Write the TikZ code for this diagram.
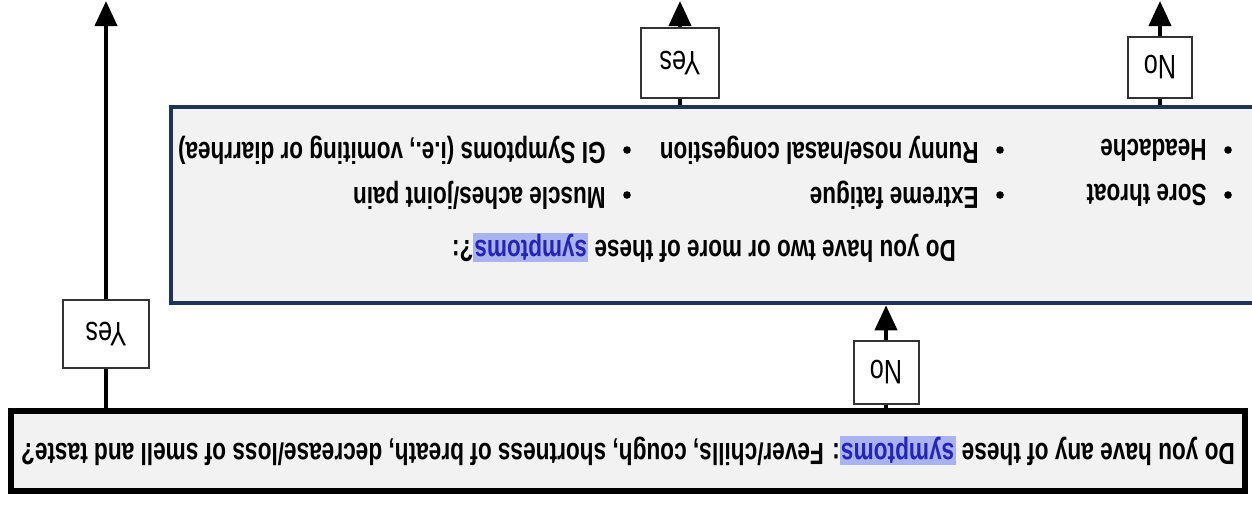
\documentclass[tikz,border=0pt]{standalone}
\usepackage{fontspec}
\setmainfont{Liberation Sans}[FakeStretch=0.74]
\usetikzlibrary{positioning, arrows.meta}
\usepackage{xcolor}
\definecolor{qfill}{HTML}{F2F2F2}
\definecolor{qnavy}{HTML}{1F3358}
\definecolor{linkblue}{HTML}{2424B8}
\definecolor{linkhl}{HTML}{A9B3F0}
\newcommand{\symlink}[1]{{\setlength{\fboxsep}{0.6pt}\colorbox{linkhl}{\textcolor{linkblue}{#1}}}}

\begin{document}
\begin{tikzpicture}[x=0.5pt, y=-0.5pt,
      qbox/.style={draw=black, line width=2.6pt, fill=qfill,
                   font=\bfseries\fontsize{15.3}{17}\selectfont},
      ansbox/.style={draw=black!80, line width=1pt, fill=white,
                     font=\fontsize{17}{19}\selectfont},
      bul/.style={font=\bfseries\fontsize{15.2}{17}\selectfont, inner sep=0pt},
      dot/.style={circle, fill=black, inner sep=0pt, minimum size=3.8pt},
      arr/.style={line width=2pt, -{Triangle[length=12.5pt, width=11pt]}},
      plain/.style={line width=2pt}]
  % the sheet is upside down: draw it upright, then turn it round
  \begin{scope}[rotate around={180:(626,252)}, transform shape]
    \useasboundingbox (0,0) rectangle (1252,504);
    \clip (0,0) rectangle (1252,504);
    \fill[white] (0,0) rectangle (1252,504);

    % questions
    \node[qbox, minimum width=617pt, minimum height=40pt] (q1) at (624,53)
      {Do you have any of these \symlink{symptoms}: Fever/chills, cough, shortness of breath, decrease/loss of smell and taste?};
    \node[qbox, draw=qnavy, line width=2.3pt, minimum width=545.5pt, minimum height=98pt] (q2) at (535.5,299) {};
    \node[bul] (q2head) at (548,256)
      {Do you have two or more of these \symlink{symptoms}?:};
    \foreach \bx/\by/\txt in {24/309/{Sore throat}, 24/354/{Headache},
        252/309/{Extreme fatigue}, 252/354/{Runny nose/nasal congestion},
        625/309/{Muscle aches/joint pain}, 625/354/{GI Symptoms (i.e., vomiting or diarrhea)}}{
      \node[dot] at (\bx,\by) {};
      \node[bul, anchor=west] at (\bx+21,\by) {\txt};
    }

    % answers
    \node[ansbox, minimum width=43pt, minimum height=34pt] (yes1) at (1146,170) {Yes};
    \node[ansbox, minimum width=32.5pt, minimum height=31.5pt] (no1) at (366,132) {No};
    \node[ansbox, minimum width=39pt, minimum height=35pt] (yes2) at (572,441) {Yes};
    \node[ansbox, minimum width=32pt, minimum height=30.5pt] (no2) at (92,437) {No};

    \coordinate (yes1end) at (1146,503);
    \coordinate (yes2end) at (572,503);
    \coordinate (no2end) at (92,503);

    \draw[plain] (q1.south -| yes1) -- (yes1.north);
    \draw[arr] (yes1.south) -- (yes1end);
    \draw[plain] (q1.south -| no1) -- (no1.north);
    \draw[arr] (no1.south) -- (q2.north -| no1);
    \draw[plain] (q2.south -| yes2) -- (yes2.north);
    \draw[arr] (yes2.south) -- (yes2end);
    \draw[plain] (q2.south -| no2) -- (no2.north);
    \draw[arr] (no2.south) -- (no2end);
  \end{scope}
\end{tikzpicture}
\end{document}
